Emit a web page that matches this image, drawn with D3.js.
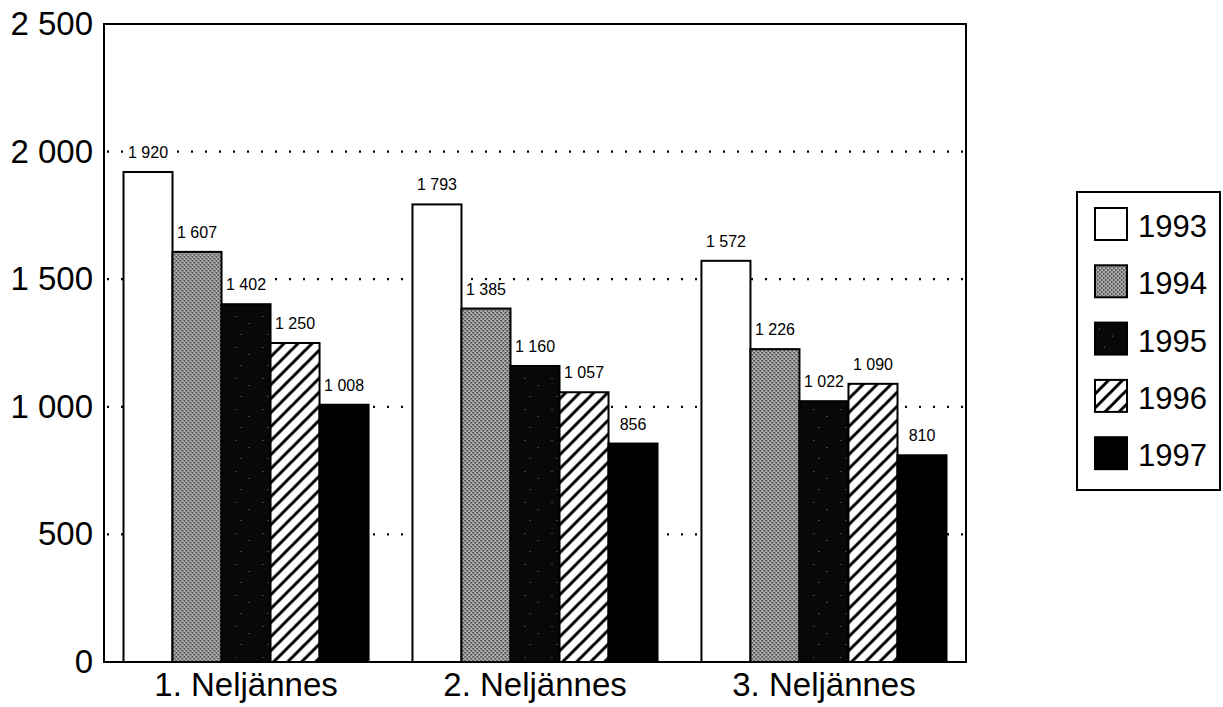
<!DOCTYPE html>
<html lang="fi">
<head>
<meta charset="utf-8"/>
<title>Neljännekset 1993–1997</title>
<script src="https://d3js.org/d3.v7.min.js"></script>
<style>
  body{margin:0;background:#fff;font-family:"Liberation Sans",Arial,sans-serif;}
  svg text{fill:#000;}
</style>
</head>
<body>
<svg id="chart" width="1223" height="707"></svg>
<script>
// data
const quarters = ['1. Neljännes', '2. Neljännes', '3. Neljännes'];
const years = ['1993', '1994', '1995', '1996', '1997'];
const v1993 = [1920, 1793, 1572];
const v1994 = [1607, 1385, 1226];
const v1995 = [1402, 1160, 1022];
const v1996 = [1250, 1057, 1090];
const v1997 = [1008, 856, 810];
const yTicks = [0, 500, 1000, 1500, 2000, 2500];

const series = {'1993': v1993, '1994': v1994, '1995': v1995, '1996': v1996, '1997': v1997};
const rows = quarters.map((q, i) => ({q, vals: years.map(y => ({year: y, value: series[y][i]}))}));

const fi = d3.formatLocale({decimal: ',', thousands: ' ', grouping: [3], currency: ['', '€']});
const fmt = fi.format(',d');

const svg = d3.select('#chart');
const plot = {left: 104, right: 966, top: 24, bottom: 662};

// patterns for the fills
const defs = svg.append('defs');
const p94 = defs.append('pattern').attr('id', 'p1994').attr('patternUnits', 'userSpaceOnUse')
  .attr('width', 4).attr('height', 4);
p94.append('rect').attr('width', 4).attr('height', 4).attr('fill', '#b4b4b4');
p94.append('rect').attr('x', 0).attr('y', 0).attr('width', 1.6).attr('height', 1.6).attr('fill', '#333');
p94.append('rect').attr('x', 2).attr('y', 2).attr('width', 1.6).attr('height', 1.6).attr('fill', '#333');

const p95 = defs.append('pattern').attr('id', 'p1995').attr('patternUnits', 'userSpaceOnUse')
  .attr('width', 27).attr('height', 31);
p95.append('rect').attr('width', 27).attr('height', 31).attr('fill', '#080808');
[[4, 6], [17, 13], [9, 24]].forEach(([x, y]) =>
  p95.append('rect').attr('x', x).attr('y', y).attr('width', 1).attr('height', 1).attr('fill', '#777'));

const p96 = defs.append('pattern').attr('id', 'p1996').attr('patternUnits', 'userSpaceOnUse')
  .attr('width', 14).attr('height', 14);
p96.append('rect').attr('width', 14).attr('height', 14).attr('fill', '#fff');
p96.append('path').attr('d', 'M-2,16 L16,-2 M-9,9 L9,-9 M5,23 L23,5')
  .attr('stroke', '#000').attr('stroke-width', 3);

const fills = {'1993': '#fff', '1994': 'url(#p1994)', '1995': 'url(#p1995)', '1996': 'url(#p1996)', '1997': '#000'};

// scales
const x0 = d3.scaleBand().domain(quarters).range([plot.left, plot.right]).paddingInner(0.152).paddingOuter(0.0675);
const x1 = d3.scaleBand().domain(years).range([0, x0.bandwidth()]);
const y = d3.scaleLinear().domain([0, 2500]).range([plot.bottom, plot.top]);

// dotted gridlines
svg.append('g').selectAll('line').data(yTicks.filter(d => d > 0 && d < 2500)).join('line')
  .attr('x1', plot.left + 3).attr('x2', plot.right)
  .attr('y1', d => y(d)).attr('y2', d => y(d))
  .attr('stroke', '#000').attr('stroke-width', 2.2)
  .attr('stroke-dasharray', '2,12');

// bars
const groups = svg.append('g').selectAll('g').data(rows).join('g')
  .attr('transform', d => `translate(${x0(d.q)},0)`);

groups.selectAll('rect').data(d => d.vals).join('rect')
  .attr('x', d => x1(d.year))
  .attr('y', d => y(d.value))
  .attr('width', x1.bandwidth())
  .attr('height', d => y(0) - y(d.value))
  .attr('fill', d => fills[d.year])
  .attr('stroke', '#000').attr('stroke-width', 2);

// value labels with white backing
const lab = groups.selectAll('g.lab').data(d => d.vals).join('g').attr('class', 'lab')
  .attr('transform', d => `translate(${x1(d.year) + x1.bandwidth() / 2},${y(d.value) - 14})`);
lab.append('text')
  .attr('text-anchor', 'middle')
  .style('font-size', '16px')
  .text(d => fmt(d.value))
  .each(function() {
    const b = this.getBBox();
    d3.select(this.parentNode).insert('rect', 'text')
      .attr('x', b.x - 2).attr('y', b.y).attr('width', b.width + 4).attr('height', b.height)
      .attr('fill', '#fff');
  });

// frame
svg.append('rect').attr('x', plot.left).attr('y', plot.top)
  .attr('width', plot.right - plot.left).attr('height', plot.bottom - plot.top)
  .attr('fill', 'none').attr('stroke', '#000').attr('stroke-width', 2);

// y axis labels
const yAxis = svg.append('g').attr('transform', `translate(${plot.left},0)`)
  .call(d3.axisLeft(y).tickValues(yTicks).tickFormat(fmt).tickSize(0).tickPadding(11));
yAxis.select('.domain').remove();
yAxis.selectAll('text').style('font-size', '33px').style('font-family', '"Liberation Sans",Arial,sans-serif');

// x axis labels
const xAxis = svg.append('g').attr('transform', `translate(0,${plot.bottom})`)
  .call(d3.axisBottom(x0).tickSize(0).tickPadding(11));
xAxis.select('.domain').remove();
xAxis.selectAll('text').style('font-size', '33px').style('font-family', '"Liberation Sans",Arial,sans-serif');

// legend
const lg = svg.append('g').attr('transform', 'translate(1077,192)');
lg.append('rect').attr('width', 143).attr('height', 298)
  .attr('fill', '#fff').attr('stroke', '#000').attr('stroke-width', 2);
const items = lg.selectAll('g.item').data(years).join('g').attr('class', 'item')
  .attr('transform', (d, i) => `translate(18,${16 + i * 57.3})`);
items.append('rect').attr('width', 32).attr('height', 32)
  .attr('fill', d => fills[d]).attr('stroke', '#000').attr('stroke-width', 2);
items.append('text').attr('x', 43).attr('y', 29)
  .style('font-size', '31px').text(d => d);
</script>
</body>
</html>
